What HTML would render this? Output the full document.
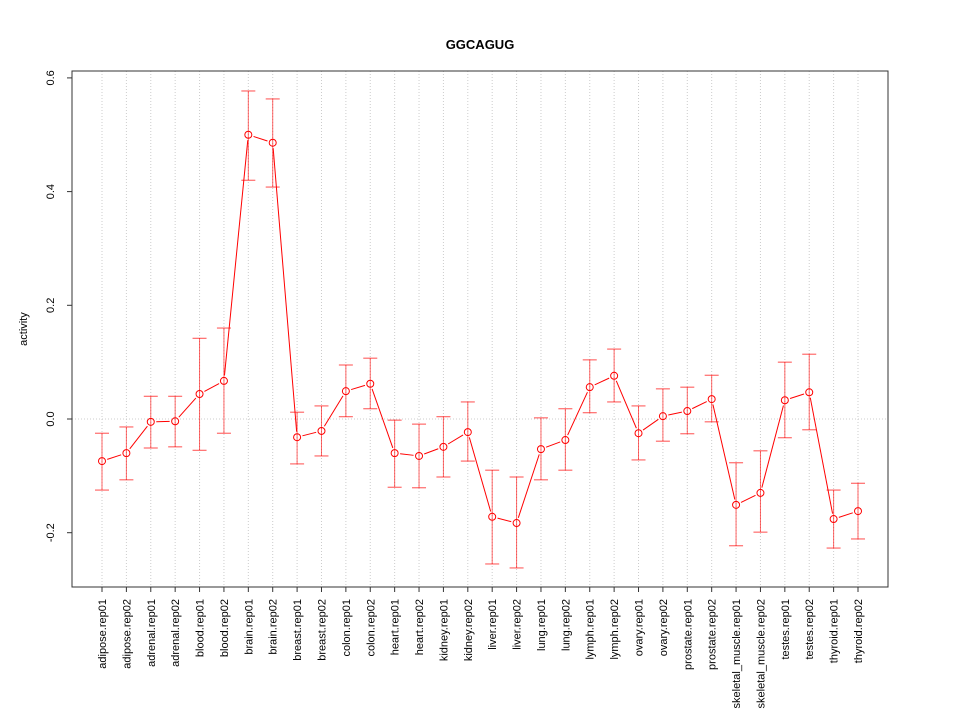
<!DOCTYPE html>
<html><head><meta charset="utf-8"><style>body{margin:0;background:#fff}svg{font-family:"Liberation Sans",sans-serif}</style></head>
<body>
<svg id="c" width="960" height="720"></svg>
<script>
const categories=["adipose.rep01","adipose.rep02","adrenal.rep01","adrenal.rep02","blood.rep01","blood.rep02","brain.rep01","brain.rep02","breast.rep01","breast.rep02","colon.rep01","colon.rep02","heart.rep01","heart.rep02","kidney.rep01","kidney.rep02","liver.rep01","liver.rep02","lung.rep01","lung.rep02","lymph.rep01","lymph.rep02","ovary.rep01","ovary.rep02","prostate.rep01","prostate.rep02","skeletal_muscle.rep01","skeletal_muscle.rep02","testes.rep01","testes.rep02","thyroid.rep01","thyroid.rep02"];
const values=[-0.074,-0.060,-0.005,-0.004,0.044,0.067,0.500,0.486,-0.032,-0.021,0.049,0.062,-0.060,-0.065,-0.049,-0.023,-0.172,-0.183,-0.053,-0.037,0.056,0.076,-0.025,0.005,0.014,0.035,-0.151,-0.130,0.033,0.047,-0.176,-0.162];
const upper=[-0.025,-0.014,0.040,0.040,0.142,0.160,0.577,0.563,0.012,0.023,0.095,0.107,-0.002,-0.009,0.004,0.030,-0.090,-0.102,0.002,0.018,0.104,0.123,0.023,0.053,0.056,0.077,-0.077,-0.056,0.100,0.114,-0.125,-0.113];
const lower=[-0.125,-0.107,-0.051,-0.049,-0.055,-0.025,0.420,0.408,-0.079,-0.065,0.004,0.018,-0.120,-0.121,-0.102,-0.074,-0.255,-0.262,-0.107,-0.090,0.011,0.030,-0.072,-0.039,-0.026,-0.005,-0.223,-0.199,-0.033,-0.019,-0.227,-0.211];
const yTicks=[-0.2,0.0,0.2,0.4,0.6];
const yTickLabels=["-0.2","0.0","0.2","0.4","0.6"];
const svg=document.getElementById('c');const NS="http://www.w3.org/2000/svg";
const L=72,R=888,T=71,B=587;
const x=i=>102+i*(858-102)/(categories.length-1);
const y=v=>419-v*568.5;
function mk(t,a,p){const e=document.createElementNS(NS,t);for(const k in a)e.setAttribute(k,a[k]);(p||svg).appendChild(e);return e;}
let e;
e=mk('text',{x:480,y:49,'text-anchor':'middle','font-size':13,'font-weight':'bold'});e.textContent="GGCAGUG";


e=mk('text',{x:0,y:0,transform:'translate(27,329) rotate(-90)','text-anchor':'middle','font-size':11});e.textContent="activity";


categories.forEach((c,i)=>{
 e=mk('line',{x1:x(i),x2:x(i),y1:T,y2:B,stroke:'#ccc','stroke-dasharray':'1,2'});
 
 
 e=mk('line',{x1:x(i),x2:x(i),y1:B,y2:B+5,stroke:'#333'});
 
 
 e=mk('text',{x:0,y:0,transform:`translate(${x(i)+4},599) rotate(-90)`,'text-anchor':'end','font-size':11});e.textContent=c;
 
 
});
e=mk('line',{x1:L,x2:R,y1:y(0),y2:y(0),stroke:'#ccc','stroke-dasharray':'1,2'});


yTicks.forEach((v,i)=>{
 e=mk('line',{x1:L-5,x2:L,y1:y(v),y2:y(v),stroke:'#333'});
 
 
 e=mk('text',{x:0,y:0,transform:`translate(${L-18},${y(v)}) rotate(-90)`,'text-anchor':'middle','font-size':11});e.textContent=yTickLabels[i];
 
 
});
e=mk('rect',{x:L,y:T,width:R-L,height:B-T,fill:'none',stroke:'#333'});


for(let i=0;i<values.length-1;i++){
 const x1=x(i),y1=y(values[i]),x2=x(i+1),y2=y(values[i+1]);
 const dx=x2-x1,dy=y2-y1,d=Math.hypot(dx,dy),g=5.5;
 if(d>2*g){e=mk('line',{x1:x1+dx*g/d,y1:y1+dy*g/d,x2:x2-dx*g/d,y2:y2-dy*g/d,stroke:'#f00'});
 
 }
}
values.forEach((v,i)=>{
 const g=mk('g',{});
 
 
 mk('line',{x1:x(i),x2:x(i),y1:y(upper[i]),y2:y(lower[i]),stroke:'#f00','stroke-opacity':0.6},g);
 mk('line',{x1:x(i)-7,x2:x(i)+7,y1:y(upper[i]),y2:y(upper[i]),stroke:'#f00','stroke-opacity':0.7},g);
 mk('line',{x1:x(i)-7,x2:x(i)+7,y1:y(lower[i]),y2:y(lower[i]),stroke:'#f00','stroke-opacity':0.7},g);
 e=mk('circle',{cx:x(i),cy:y(v),r:3.5,fill:'none',stroke:'#f00'});
 
 
});
</script>
</body></html>
